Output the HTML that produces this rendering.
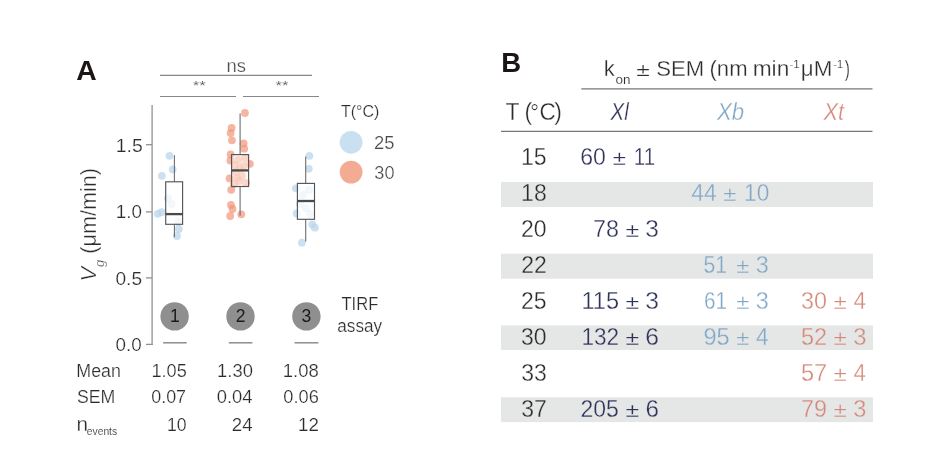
<!DOCTYPE html>
<html>
<head>
<meta charset="utf-8">
<style>
html,body{margin:0;padding:0;background:#fff;}
body{width:932px;height:462px;overflow:hidden;position:relative;}
svg{position:absolute;left:0;top:0;display:block;will-change:transform;}
text{font-family:"Liberation Sans",Arial,sans-serif;}
</style>
</head>
<body>
<svg width="932" height="462" viewBox="0 0 932 462">
<defs><filter id="soft" x="-20%" y="-20%" width="140%" height="140%"><feGaussianBlur stdDeviation="0.45"/></filter></defs>
<rect width="932" height="462" fill="#fff"/>
<text x="76.39" y="79.90" font-size="27" fill="#1b1515" font-weight="bold" textLength="20.45" lengthAdjust="spacingAndGlyphs" style="stroke:none">A</text>
<text x="226.47" y="72.10" font-size="19" fill="#4e4e4e" textLength="19.49" lengthAdjust="spacingAndGlyphs" style="stroke:#fff;stroke-width:0.25px">ns</text>
<line x1="160" y1="75.4" x2="312" y2="75.4" stroke="#888" stroke-width="1.1"/>
<line x1="160" y1="96.5" x2="236" y2="96.5" stroke="#888" stroke-width="1.1"/>
<line x1="243" y1="96.5" x2="319" y2="96.5" stroke="#888" stroke-width="1.1"/>
<text x="192.73" y="90.00" font-size="13" fill="#444" textLength="13.03" lengthAdjust="spacingAndGlyphs" style="stroke:#fff;stroke-width:0.15px">**</text>
<text x="275.53" y="90.00" font-size="13" fill="#444" textLength="12.93" lengthAdjust="spacingAndGlyphs" style="stroke:#fff;stroke-width:0.15px">**</text>
<g stroke="#909090" stroke-width="1.3" fill="none"><line x1="152.1" y1="105" x2="152.1" y2="345"/><line x1="146" y1="144.7" x2="152" y2="144.7"/><line x1="146" y1="211.9" x2="152" y2="211.9"/><line x1="146" y1="277.9" x2="152" y2="277.9"/><line x1="146" y1="344.4" x2="152.7" y2="344.4"/></g>
<text x="115.72" y="151.60" font-size="18" fill="#2c2c2c" textLength="26.99" lengthAdjust="spacingAndGlyphs" style="stroke:#fff;stroke-width:0.23px">1.5</text>
<text x="115.87" y="217.90" font-size="18" fill="#2c2c2c" textLength="26.17" lengthAdjust="spacingAndGlyphs" style="stroke:#fff;stroke-width:0.23px">1.0</text>
<text x="115.45" y="284.50" font-size="18" fill="#2c2c2c" textLength="26.65" lengthAdjust="spacingAndGlyphs" style="stroke:#fff;stroke-width:0.23px">0.5</text>
<text x="115.46" y="351.00" font-size="18" fill="#2c2c2c" textLength="26.17" lengthAdjust="spacingAndGlyphs" style="stroke:#fff;stroke-width:0.23px">0.0</text>
<text transform="translate(96.3,281.4) rotate(-90)" font-size="22" fill="#2c2c2c" style="stroke:#fff;stroke-width:0.33px"><tspan x="0" y="0" font-style="italic">V</tspan><tspan x="14.4" y="8" font-size="13" font-style="italic">g</tspan><tspan x="27.7" y="0" font-size="21.6">(μm/min)</tspan></text>
<g fill="#bad7ec" fill-opacity="0.75" filter="url(#soft)"><circle cx="169.5" cy="155.8" r="3.9"/><circle cx="172.7" cy="169.4" r="3.9"/><circle cx="161.9" cy="175.8" r="3.9"/><circle cx="167.9" cy="198.3" r="3.9"/><circle cx="157.7" cy="213.8" r="3.9"/><circle cx="161.5" cy="212.2" r="3.9"/><circle cx="178.4" cy="222.0" r="3.9"/><circle cx="178.8" cy="229.0" r="3.9"/><circle cx="177.0" cy="236.0" r="3.9"/><circle cx="171.5" cy="204.0" r="3.9"/></g>
<g fill="#f29676" fill-opacity="0.7" filter="url(#soft)"><circle cx="244.9" cy="113.0" r="3.9"/><circle cx="231.6" cy="127.9" r="3.9"/><circle cx="230.6" cy="133.1" r="3.9"/><circle cx="231.9" cy="140.3" r="3.9"/><circle cx="243.6" cy="143.5" r="3.9"/><circle cx="244.2" cy="148.7" r="3.9"/><circle cx="230.6" cy="154.5" r="3.9"/><circle cx="230.4" cy="160.5" r="3.9"/><circle cx="249.9" cy="163.8" r="3.9"/><circle cx="229.6" cy="178.4" r="3.9"/><circle cx="231.2" cy="189.8" r="3.9"/><circle cx="231.0" cy="205.0" r="3.9"/><circle cx="232.5" cy="209.0" r="3.9"/><circle cx="230.2" cy="216.0" r="3.9"/><circle cx="241.3" cy="214.3" r="3.9"/><circle cx="238.0" cy="160.0" r="3.9"/><circle cx="244.0" cy="166.0" r="3.9"/><circle cx="236.0" cy="172.0" r="3.9"/><circle cx="242.0" cy="176.0" r="3.9"/><circle cx="239.0" cy="181.0" r="3.9"/><circle cx="245.0" cy="158.0" r="3.9"/><circle cx="235.0" cy="165.0" r="3.9"/><circle cx="246.0" cy="183.0" r="3.9"/><circle cx="234.0" cy="184.0" r="3.9"/><circle cx="240.0" cy="168.0" r="3.9"/><circle cx="237.0" cy="178.0" r="3.9"/></g>
<g fill="#bad7ec" fill-opacity="0.75" filter="url(#soft)"><circle cx="309.4" cy="155.8" r="3.9"/><circle cx="308.8" cy="168.8" r="3.9"/><circle cx="295.8" cy="188.3" r="3.9"/><circle cx="296.7" cy="213.4" r="3.9"/><circle cx="312.3" cy="224.5" r="3.9"/><circle cx="314.9" cy="227.7" r="3.9"/><circle cx="301.9" cy="242.7" r="3.9"/><circle cx="305.8" cy="208.2" r="3.9"/><circle cx="303.0" cy="195.0" r="3.9"/><circle cx="309.0" cy="190.0" r="3.9"/><circle cx="300.0" cy="204.0" r="3.9"/><circle cx="310.0" cy="214.0" r="3.9"/></g>
<g stroke="#6e6e6e" stroke-width="1.1"><line x1="174.4" y1="155.3" x2="174.4" y2="181.8"/><line x1="174.4" y1="224.3" x2="174.4" y2="237.3"/><line x1="240.1" y1="113.6" x2="240.1" y2="154.6"/><line x1="240.1" y1="186.5" x2="240.1" y2="215.8"/><line x1="305.7" y1="156.4" x2="305.7" y2="183.4"/><line x1="305.7" y1="219.3" x2="305.7" y2="241.4"/></g>
<g stroke="#555" stroke-width="1.15" fill="#fff" fill-opacity="0.72"><rect x="165.7" y="181.8" width="16.9" height="42.5"/><rect x="231.6" y="154.6" width="17.0" height="31.9" fill="#fdf3ef" fill-opacity="0.55"/><rect x="297.4" y="183.4" width="17.1" height="35.9"/></g>
<g stroke="#4a4a4a" stroke-width="2.3"><line x1="165.7" y1="214.1" x2="182.6" y2="214.1"/><line x1="231.6" y1="170.4" x2="248.6" y2="170.4"/><line x1="297.4" y1="201" x2="314.5" y2="201"/></g>
<text x="340.94" y="117.20" font-size="16.8" fill="#2c2c2c" textLength="38.35" lengthAdjust="spacingAndGlyphs" style="stroke:#fff;stroke-width:0.22px">T(°C)</text>
<circle cx="351.1" cy="142.3" r="11.4" fill="#c8e0f0"/>
<circle cx="351.1" cy="172.1" r="11.4" fill="#f3ab93"/>
<text x="374.07" y="149.40" font-size="18" fill="#4a4a4a" textLength="20.50" lengthAdjust="spacingAndGlyphs" style="stroke:#fff;stroke-width:0.23px">25</text>
<text x="374.31" y="179.00" font-size="18" fill="#4a4a4a" textLength="20.20" lengthAdjust="spacingAndGlyphs" style="stroke:#fff;stroke-width:0.23px">30</text>
<g fill="#8f8f8f"><circle cx="174.6" cy="316.4" r="14.2"/><circle cx="240.5" cy="316.4" r="14.2"/><circle cx="306.4" cy="316.4" r="14.2"/></g>
<text x="169.89" y="322.00" font-size="17.5" fill="#1a1a1a" style="stroke:none">1</text>
<text x="235.63" y="322.00" font-size="17.5" fill="#1a1a1a" style="stroke:none">2</text>
<text x="301.58" y="322.00" font-size="17.5" fill="#1a1a1a" style="stroke:none">3</text>
<g stroke="#858585" stroke-width="1.4"><line x1="163.1" y1="342.8" x2="186.7" y2="342.8"/><line x1="228.8" y1="342.8" x2="252.4" y2="342.8"/><line x1="294.5" y1="342.8" x2="318.4" y2="342.8"/></g>
<text x="341.53" y="310.30" font-size="17.5" fill="#2c2c2c" textLength="36.73" lengthAdjust="spacingAndGlyphs" style="stroke:#fff;stroke-width:0.23px">TIRF</text>
<text x="337.27" y="332.40" font-size="17.5" fill="#2c2c2c" textLength="44.86" lengthAdjust="spacingAndGlyphs" style="stroke:#fff;stroke-width:0.23px">assay</text>
<text x="76.34" y="377.00" font-size="18" fill="#2c2c2c" textLength="44.52" lengthAdjust="spacingAndGlyphs" style="stroke:#fff;stroke-width:0.23px">Mean</text>
<text x="77.00" y="403.20" font-size="18" fill="#2c2c2c" textLength="38.36" lengthAdjust="spacingAndGlyphs" style="stroke:#fff;stroke-width:0.23px">SEM</text>
<text x="76.42" y="431.00" font-size="20" fill="#2c2c2c" textLength="11.52" lengthAdjust="spacingAndGlyphs" style="stroke:#fff;stroke-width:0.26px">n</text>
<text x="86.76" y="434.90" font-size="11" fill="#2c2c2c" textLength="30.41" lengthAdjust="spacingAndGlyphs" style="stroke:#fff;stroke-width:0.15px">events</text>
<text x="151.42" y="377.00" font-size="18" fill="#2c2c2c" textLength="35.35" lengthAdjust="spacingAndGlyphs" style="stroke:#fff;stroke-width:0.23px">1.05</text>
<text x="217.10" y="377.00" font-size="18" fill="#2c2c2c" textLength="35.82" lengthAdjust="spacingAndGlyphs" style="stroke:#fff;stroke-width:0.23px">1.30</text>
<text x="282.79" y="377.00" font-size="18" fill="#2c2c2c" textLength="35.91" lengthAdjust="spacingAndGlyphs" style="stroke:#fff;stroke-width:0.23px">1.08</text>
<text x="151.20" y="403.20" font-size="18" fill="#2c2c2c" textLength="34.90" lengthAdjust="spacingAndGlyphs" style="stroke:#fff;stroke-width:0.23px">0.07</text>
<text x="216.78" y="403.20" font-size="18" fill="#2c2c2c" textLength="35.76" lengthAdjust="spacingAndGlyphs" style="stroke:#fff;stroke-width:0.23px">0.04</text>
<text x="283.29" y="403.20" font-size="18" fill="#2c2c2c" textLength="35.51" lengthAdjust="spacingAndGlyphs" style="stroke:#fff;stroke-width:0.23px">0.06</text>
<text x="167.06" y="431.00" font-size="18" fill="#2c2c2c" textLength="19.63" lengthAdjust="spacingAndGlyphs" style="stroke:#fff;stroke-width:0.23px">10</text>
<text x="231.76" y="431.00" font-size="18" fill="#2c2c2c" textLength="20.79" lengthAdjust="spacingAndGlyphs" style="stroke:#fff;stroke-width:0.23px">24</text>
<text x="297.97" y="431.00" font-size="18" fill="#2c2c2c" textLength="20.87" lengthAdjust="spacingAndGlyphs" style="stroke:#fff;stroke-width:0.23px">12</text>
<text x="501.36" y="72.30" font-size="27" fill="#1b1515" font-weight="bold" textLength="19.89" lengthAdjust="spacingAndGlyphs" style="stroke:none">B</text>
<text x="603.72" y="76.30" font-size="22" fill="#2c2c2c" style="stroke:#fff;stroke-width:0.29px">k</text>
<text x="615.44" y="83.60" font-size="12" fill="#2c2c2c" textLength="14.94" lengthAdjust="spacingAndGlyphs" style="stroke:#fff;stroke-width:0.15px">on</text>
<text transform="matrix(1.123,0,0,0.820,636.22,76.30)" x="0" y="0" font-size="22" fill="#2c2c2c" style="stroke:#fff;stroke-width:0.29px">±</text>
<text x="656.30" y="76.30" font-size="22" fill="#2c2c2c" textLength="47.92" lengthAdjust="spacingAndGlyphs" style="stroke:#fff;stroke-width:0.29px">SEM</text>
<text x="709.53" y="76.30" font-size="22" fill="#2c2c2c" textLength="38.02" lengthAdjust="spacingAndGlyphs" style="stroke:#fff;stroke-width:0.29px">(nm</text>
<text x="752.69" y="76.30" font-size="22" fill="#2c2c2c" textLength="36.58" lengthAdjust="spacingAndGlyphs" style="stroke:#fff;stroke-width:0.29px">min</text>
<text x="789.49" y="68.40" font-size="11.5" fill="#2c2c2c" textLength="10.28" lengthAdjust="spacingAndGlyphs" style="stroke:#fff;stroke-width:0.15px">-1</text>
<text x="800.89" y="76.30" font-size="22" fill="#2c2c2c" textLength="31.54" lengthAdjust="spacingAndGlyphs" style="stroke:#fff;stroke-width:0.29px">μM</text>
<text x="833.31" y="68.40" font-size="11.5" fill="#2c2c2c" textLength="9.72" lengthAdjust="spacingAndGlyphs" style="stroke:#fff;stroke-width:0.15px">-1</text>
<text x="844.71" y="76.30" font-size="22" fill="#2c2c2c" textLength="5.15" lengthAdjust="spacingAndGlyphs" style="stroke:#fff;stroke-width:0.29px">)</text>
<line x1="581.3" y1="88.9" x2="872.5" y2="88.9" stroke="#777" stroke-width="1.2"/>
<text x="505.38" y="120.00" font-size="23" fill="#2c2c2c" textLength="14.04" lengthAdjust="spacingAndGlyphs" style="stroke:#fff;stroke-width:0.30px">T</text>
<text x="524.57" y="120.00" font-size="23" fill="#2c2c2c" style="stroke:#fff;stroke-width:0.30px">(</text>
<text x="530.30" y="120.00" font-size="23" fill="#2c2c2c" textLength="8.70" lengthAdjust="spacingAndGlyphs" style="stroke:#fff;stroke-width:0.30px">°</text>
<text x="539.55" y="120.00" font-size="23" fill="#2c2c2c" textLength="16.31" lengthAdjust="spacingAndGlyphs" style="stroke:#fff;stroke-width:0.30px">C</text>
<text x="554.17" y="120.00" font-size="23" fill="#2c2c2c" style="stroke:#fff;stroke-width:0.30px">)</text>
<text x="610.59" y="119.80" font-size="23" fill="#2f3259" font-style="italic" textLength="18.15" lengthAdjust="spacingAndGlyphs" style="stroke:#fff;stroke-width:0.30px">Xl</text>
<text x="716.92" y="119.80" font-size="23" fill="#7fa8c9" font-style="italic" textLength="27.16" lengthAdjust="spacingAndGlyphs" style="stroke:#fff;stroke-width:0.30px">Xb</text>
<text x="823.42" y="119.80" font-size="23" fill="#d5897a" font-style="italic" textLength="20.63" lengthAdjust="spacingAndGlyphs" style="stroke:#fff;stroke-width:0.30px">Xt</text>
<line x1="501" y1="131.3" x2="872.5" y2="131.3" stroke="#777" stroke-width="1.2"/>
<rect x="501" y="182.0" width="372" height="25.0" fill="#e5e6e6"/>
<rect x="501" y="253.7" width="372" height="25.0" fill="#e5e6e6"/>
<rect x="501" y="325.4" width="372" height="24.6" fill="#e5e6e6"/>
<rect x="501" y="397.3" width="372" height="24.8" fill="#e5e6e6"/>
<text x="521.08" y="165.00" font-size="23" fill="#2c2c2c" style="stroke:#fff;stroke-width:0.30px">15</text>
<text x="521.12" y="201.00" font-size="23" fill="#2c2c2c" style="stroke:#e5e6e6;stroke-width:0.30px">18</text>
<text x="521.02" y="237.00" font-size="23" fill="#2c2c2c" style="stroke:#fff;stroke-width:0.30px">20</text>
<text x="521.27" y="273.00" font-size="23" fill="#2c2c2c" style="stroke:#e5e6e6;stroke-width:0.30px">22</text>
<text x="521.08" y="309.00" font-size="23" fill="#2c2c2c" style="stroke:#fff;stroke-width:0.30px">25</text>
<text x="521.02" y="345.00" font-size="23" fill="#2c2c2c" style="stroke:#e5e6e6;stroke-width:0.30px">30</text>
<text x="521.13" y="381.00" font-size="23" fill="#2c2c2c" style="stroke:#fff;stroke-width:0.30px">33</text>
<text x="521.27" y="417.00" font-size="23" fill="#2c2c2c" style="stroke:#e5e6e6;stroke-width:0.30px">37</text>
<text x="580.23" y="165.00" font-size="23" fill="#2f3259" textLength="25.67" lengthAdjust="spacingAndGlyphs" style="stroke:#fff;stroke-width:0.30px">60</text>
<text transform="matrix(1.047,0,0,0.840,612.84,165.00)" x="0" y="0" font-size="23" fill="#2f3259" style="stroke:#fff;stroke-width:0.30px">±</text>
<text x="633.73" y="165.00" font-size="23" fill="#2f3259" textLength="21.41" lengthAdjust="spacingAndGlyphs" style="stroke:#fff;stroke-width:0.30px">11</text>
<text x="691.28" y="201.00" font-size="23" fill="#7fa8c9" textLength="25.39" lengthAdjust="spacingAndGlyphs" style="stroke:#e5e6e6;stroke-width:0.30px">44</text>
<text transform="matrix(1.047,0,0,0.840,723.14,201.00)" x="0" y="0" font-size="23" fill="#7fa8c9" style="stroke:#e5e6e6;stroke-width:0.30px">±</text>
<text x="744.07" y="201.00" font-size="23" fill="#7fa8c9" textLength="25.21" lengthAdjust="spacingAndGlyphs" style="stroke:#e5e6e6;stroke-width:0.30px">10</text>
<text x="593.11" y="237.00" font-size="23" fill="#2f3259" textLength="25.91" lengthAdjust="spacingAndGlyphs" style="stroke:#fff;stroke-width:0.30px">78</text>
<text transform="matrix(1.083,0,0,0.840,625.61,237.00)" x="0" y="0" font-size="23" fill="#2f3259" style="stroke:#fff;stroke-width:0.30px">±</text>
<text x="645.37" y="237.00" font-size="23" fill="#2f3259" textLength="13.61" lengthAdjust="spacingAndGlyphs" style="stroke:#fff;stroke-width:0.30px">3</text>
<text x="703.45" y="273.00" font-size="23" fill="#7fa8c9" textLength="23.58" lengthAdjust="spacingAndGlyphs" style="stroke:#e5e6e6;stroke-width:0.30px">51</text>
<text transform="matrix(1.047,0,0,0.840,736.24,273.00)" x="0" y="0" font-size="23" fill="#7fa8c9" style="stroke:#e5e6e6;stroke-width:0.30px">±</text>
<text x="755.81" y="273.00" font-size="23" fill="#7fa8c9" textLength="13.02" lengthAdjust="spacingAndGlyphs" style="stroke:#e5e6e6;stroke-width:0.30px">3</text>
<text x="581.49" y="309.00" font-size="23" fill="#2f3259" textLength="37.56" lengthAdjust="spacingAndGlyphs" style="stroke:#fff;stroke-width:0.30px">115</text>
<text transform="matrix(1.083,0,0,0.840,625.61,309.00)" x="0" y="0" font-size="23" fill="#2f3259" style="stroke:#fff;stroke-width:0.30px">±</text>
<text x="645.26" y="309.00" font-size="23" fill="#2f3259" textLength="13.72" lengthAdjust="spacingAndGlyphs" style="stroke:#fff;stroke-width:0.30px">3</text>
<text x="703.95" y="309.00" font-size="23" fill="#7fa8c9" textLength="23.07" lengthAdjust="spacingAndGlyphs" style="stroke:#fff;stroke-width:0.30px">61</text>
<text transform="matrix(1.047,0,0,0.840,736.24,309.00)" x="0" y="0" font-size="23" fill="#7fa8c9" style="stroke:#fff;stroke-width:0.30px">±</text>
<text x="755.81" y="309.00" font-size="23" fill="#7fa8c9" textLength="13.02" lengthAdjust="spacingAndGlyphs" style="stroke:#fff;stroke-width:0.30px">3</text>
<text x="800.91" y="309.00" font-size="23" fill="#d5897a" textLength="26.00" lengthAdjust="spacingAndGlyphs" style="stroke:#fff;stroke-width:0.30px">30</text>
<text transform="matrix(1.056,0,0,0.840,833.53,309.00)" x="0" y="0" font-size="23" fill="#d5897a" style="stroke:#fff;stroke-width:0.30px">±</text>
<text x="853.59" y="309.00" font-size="23" fill="#d5897a" textLength="12.47" lengthAdjust="spacingAndGlyphs" style="stroke:#fff;stroke-width:0.30px">4</text>
<text x="581.48" y="345.00" font-size="23" fill="#2f3259" textLength="37.65" lengthAdjust="spacingAndGlyphs" style="stroke:#e5e6e6;stroke-width:0.30px">132</text>
<text transform="matrix(1.083,0,0,0.840,625.61,345.00)" x="0" y="0" font-size="23" fill="#2f3259" style="stroke:#e5e6e6;stroke-width:0.30px">±</text>
<text x="645.25" y="345.00" font-size="23" fill="#2f3259" textLength="13.74" lengthAdjust="spacingAndGlyphs" style="stroke:#e5e6e6;stroke-width:0.30px">6</text>
<text x="703.40" y="345.00" font-size="23" fill="#7fa8c9" textLength="26.19" lengthAdjust="spacingAndGlyphs" style="stroke:#e5e6e6;stroke-width:0.30px">95</text>
<text transform="matrix(1.047,0,0,0.840,736.24,345.00)" x="0" y="0" font-size="23" fill="#7fa8c9" style="stroke:#e5e6e6;stroke-width:0.30px">±</text>
<text x="755.98" y="345.00" font-size="23" fill="#7fa8c9" textLength="12.58" lengthAdjust="spacingAndGlyphs" style="stroke:#e5e6e6;stroke-width:0.30px">4</text>
<text x="800.96" y="345.00" font-size="23" fill="#d5897a" textLength="26.23" lengthAdjust="spacingAndGlyphs" style="stroke:#e5e6e6;stroke-width:0.30px">52</text>
<text transform="matrix(1.056,0,0,0.840,833.53,345.00)" x="0" y="0" font-size="23" fill="#d5897a" style="stroke:#e5e6e6;stroke-width:0.30px">±</text>
<text x="853.29" y="345.00" font-size="23" fill="#d5897a" textLength="13.26" lengthAdjust="spacingAndGlyphs" style="stroke:#e5e6e6;stroke-width:0.30px">3</text>
<text x="800.96" y="381.00" font-size="23" fill="#d5897a" textLength="26.23" lengthAdjust="spacingAndGlyphs" style="stroke:#fff;stroke-width:0.30px">57</text>
<text transform="matrix(1.056,0,0,0.840,833.53,381.00)" x="0" y="0" font-size="23" fill="#d5897a" style="stroke:#fff;stroke-width:0.30px">±</text>
<text x="853.59" y="381.00" font-size="23" fill="#d5897a" textLength="12.36" lengthAdjust="spacingAndGlyphs" style="stroke:#fff;stroke-width:0.30px">4</text>
<text x="580.44" y="417.00" font-size="23" fill="#2f3259" textLength="38.32" lengthAdjust="spacingAndGlyphs" style="stroke:#e5e6e6;stroke-width:0.30px">205</text>
<text transform="matrix(1.083,0,0,0.840,625.61,417.00)" x="0" y="0" font-size="23" fill="#2f3259" style="stroke:#e5e6e6;stroke-width:0.30px">±</text>
<text x="645.47" y="417.00" font-size="23" fill="#2f3259" textLength="13.50" lengthAdjust="spacingAndGlyphs" style="stroke:#e5e6e6;stroke-width:0.30px">6</text>
<text x="801.10" y="417.00" font-size="23" fill="#d5897a" textLength="26.01" lengthAdjust="spacingAndGlyphs" style="stroke:#e5e6e6;stroke-width:0.30px">79</text>
<text transform="matrix(1.056,0,0,0.840,833.53,417.00)" x="0" y="0" font-size="23" fill="#d5897a" style="stroke:#e5e6e6;stroke-width:0.30px">±</text>
<text x="853.30" y="417.00" font-size="23" fill="#d5897a" textLength="13.14" lengthAdjust="spacingAndGlyphs" style="stroke:#e5e6e6;stroke-width:0.30px">3</text>
</svg>
</body>
</html>
